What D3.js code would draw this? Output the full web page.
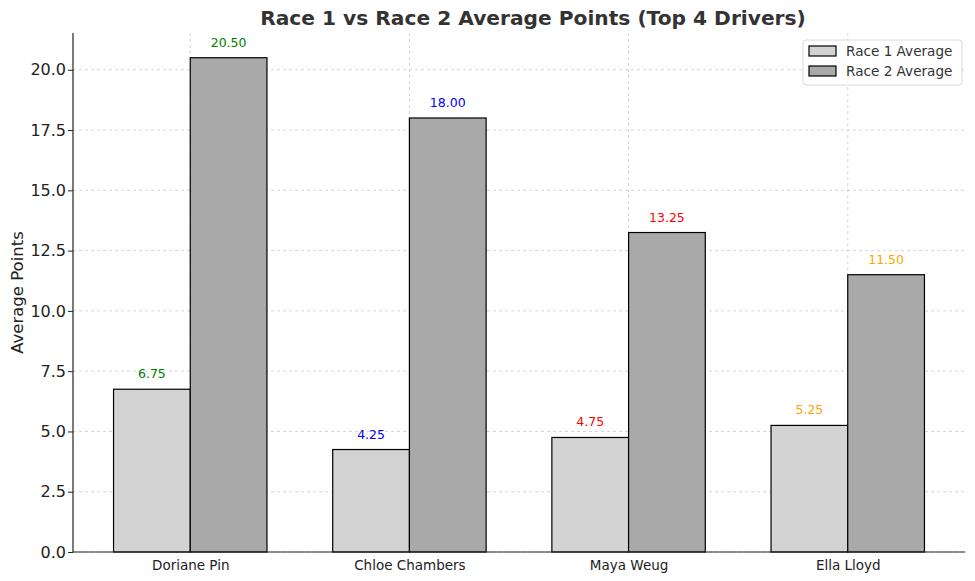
<!DOCTYPE html>
<html>
<head>
<meta charset="utf-8">
<script src="https://cdn.jsdelivr.net/npm/d3@7"></script>
<style>
  body { margin: 0; background: #fff; }
  svg { font-family: "DejaVu Sans", sans-serif; }
</style>
</head>
<body>
<div id="chart"></div>
<script>
// data
var drivers = ["Doriane Pin", "Chloe Chambers", "Maya Weug", "Ella Lloyd"];
var race1 = [6.75, 4.25, 4.75, 5.25];
var race2 = [20.50, 18.00, 13.25, 11.50];
var labelColors = ["green", "blue", "red", "orange"];
var yTicks = [0, 2.5, 5, 7.5, 10, 12.5, 15, 17.5, 20];
var seriesNames = ["Race 1 Average", "Race 2 Average"];
var seriesFill = ["#d3d3d3", "#a9a9a9"];

// Set Dimension
var W = 975, H = 581;
var margin = {top: 33, right: 10, bottom: 29, left: 73};
var width = W - margin.left - margin.right,
    height = H - margin.top - margin.bottom;

var svg = d3.select("#chart").append("svg")
    .attr("width", W).attr("height", H);

var g = svg.append("g")
    .attr("transform", "translate(" + margin.left + "," + margin.top + ")");

// scales (numeric x like matplotlib, bar width 0.35)
var barW = 0.35;
var x = d3.scaleLinear().domain([-0.535, 3.535]).range([0, width]);
var y = d3.scaleLinear().domain([0, 20.5 * 1.05]).range([height, 0]);

// grid
g.append("g").selectAll("line").data(yTicks).enter().append("line")
    .attr("x1", 0).attr("x2", width)
    .attr("y1", function(d) { return y(d); }).attr("y2", function(d) { return y(d); })
    .attr("stroke", "#cccccc").attr("stroke-width", 0.8).attr("stroke-dasharray", "3,3");
g.append("g").selectAll("line").data(drivers).enter().append("line")
    .attr("x1", function(d, i) { return x(i); }).attr("x2", function(d, i) { return x(i); })
    .attr("y1", 0).attr("y2", height)
    .attr("stroke", "#cccccc").attr("stroke-width", 0.8).attr("stroke-dasharray", "3,3");

// bars
var series = [race1, race2];
series.forEach(function(vals, s) {
  var off = s === 0 ? -barW : 0;
  g.append("g").selectAll("rect").data(vals).enter().append("rect")
    .attr("x", function(d, i) { return x(i + off); })
    .attr("y", function(d) { return y(d); })
    .attr("width", x(barW) - x(0))
    .attr("height", function(d) { return height - y(d); })
    .attr("fill", seriesFill[s])
    .attr("stroke", "#000").attr("stroke-width", 1.2);

  g.append("g").selectAll("text").data(vals).enter().append("text")
    .attr("x", function(d, i) { return x(i + off + barW / 2); })
    .attr("y", function(d) { return y(d) - 11; })
    .attr("text-anchor", "middle")
    .style("font-size", "12.5px")
    .attr("fill", function(d, i) { return labelColors[i]; })
    .text(function(d) { return d.toFixed(2); });
});

// axes
var yAxis = g.append("g")
    .call(d3.axisLeft(y).tickValues(yTicks).tickSize(5).tickPadding(2)
      .tickFormat(d3.format(".1f")));
yAxis.selectAll("text")
    .style("font-family", "'DejaVu Sans', sans-serif")
    .style("font-size", "16px").attr("fill", "#222");

var xAxis = g.append("g").attr("transform", "translate(0," + height + ")")
    .call(d3.axisBottom(x).tickValues([0, 1, 2, 3]).tickSize(0).tickPadding(8)
      .tickFormat(function(d) { return drivers[d]; }));
xAxis.selectAll("text").style("font-size", "13.5px").attr("fill", "#222");

[yAxis, xAxis].forEach(function(a) {
  a.select(".domain").attr("stroke", "#222").attr("stroke-width", 1.2);
  a.selectAll(".tick line").attr("stroke", "#222");
  a.attr("font-family", null).attr("font-size", null);
});
xAxis.select(".domain").attr("d", "M0,0H" + width);
yAxis.select(".domain").attr("d", "M0," + height + "V0");

// axis title
svg.append("text")
    .attr("transform", "translate(23," + (margin.top + height / 2) + ") rotate(-90)")
    .attr("text-anchor", "middle")
    .style("font-size", "16.5px").attr("fill", "#222")
    .text("Average Points");

// chart title
svg.append("text")
    .attr("x", 533).attr("y", 25)
    .attr("text-anchor", "middle")
    .style("font-size", "20.2px").attr("font-weight", "bold").attr("fill", "#333")
    .text("Race 1 vs Race 2 Average Points (Top 4 Drivers)");

// legend
var lg = svg.append("g").attr("transform", "translate(803,40)");
lg.append("rect").attr("width", 159).attr("height", 45).attr("rx", 3)
    .attr("fill", "#fff").attr("fill-opacity", 0.85)
    .attr("stroke", "#d9d9d9");
seriesNames.forEach(function(name, i) {
  lg.append("rect").attr("x", 6).attr("y", 6 + i * 20)
    .attr("width", 27).attr("height", 10)
    .attr("fill", seriesFill[i]).attr("stroke", "#000").attr("stroke-width", 1.2);
  lg.append("text").attr("x", 43).attr("y", 16 + i * 20)
    .style("font-size", "13.6px").attr("fill", "#333")
    .text(name);
});
</script>
</body>
</html>
